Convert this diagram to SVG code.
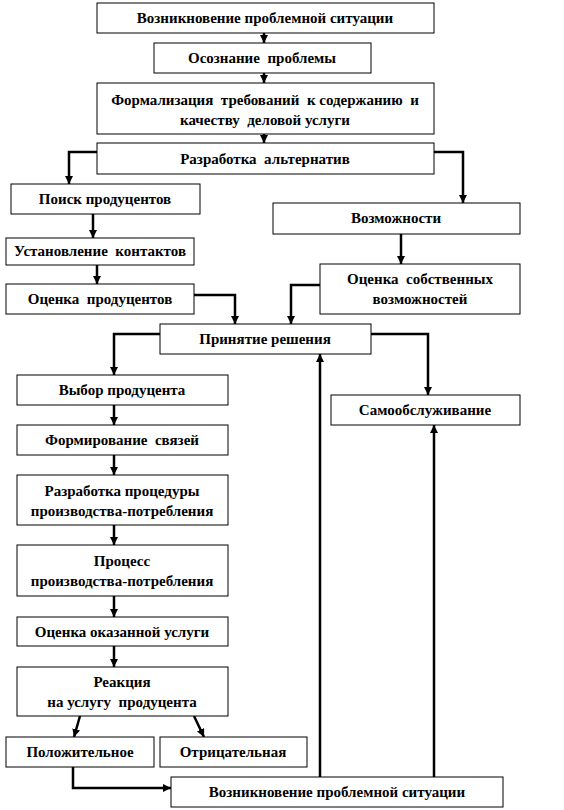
<svg xmlns="http://www.w3.org/2000/svg" width="564" height="810" viewBox="0 0 564 810">
<defs>
<marker id="ah" markerUnits="userSpaceOnUse" markerWidth="8" markerHeight="8" refX="8" refY="4" orient="auto"><path d="M0,0 L8,4 L0,8 z" fill="#000"/></marker>
<style>
rect{fill:#fff;stroke:#000;stroke-width:1}
text{font-weight:bold;font-size:15px;text-anchor:middle;dominant-baseline:central;white-space:pre}
.c path{fill:none;stroke:#000;stroke-width:2.5;marker-end:url(#ah)}
</style>
</defs>
<rect x="0" y="0" width="564" height="810" style="fill:#fff;stroke:none"/>
<g class="c" id="connectors">
<path d="M264,33 V43"/>
<path d="M264,73 V83"/>
<path d="M264,134 V143"/>
<path d="M97,152 H69 V184"/>
<path d="M434,152 H463 V203"/>
<path d="M93,214 V238"/>
<path d="M97,265 V284"/>
<path d="M401,234 V264"/>
<path d="M194,295 H235 V324"/>
<path d="M320,285 H291 V324"/>
<path d="M160,334 H114 V375"/>
<path d="M371,334 H428 V395"/>
<path d="M114,405 V425"/>
<path d="M114,455 V475"/>
<path d="M114,525 V545"/>
<path d="M114,596 V617"/>
<path d="M114,646 V667"/>
<path d="M80,716 L74,737"/>
<path d="M194,716 L204,737"/>
<path d="M73,767 V788 H171"/>
<path d="M320,777 V354"/>
<path d="M434,777 V425"/>
</g>
<g font-family="Liberation Serif, Times New Roman, serif">
<g id="n1"><rect x="97" y="3" width="337" height="30"/><text x="265" y="18">Возникновение проблемной ситуации</text></g>
<g id="n2"><rect x="154" y="43" width="217" height="30"/><text x="262" y="58">Осознание  проблемы</text></g>
<g id="n3"><rect x="97" y="83" width="337" height="51"/><text x="265" y="100">Формализация  требований  к содержанию  и</text><text x="265" y="120">качеству  деловой услуги</text></g>
<g id="n4"><rect x="97" y="143" width="337" height="31"/><text x="265" y="159">Разработка  альтернатив</text></g>
<g id="n5"><rect x="11" y="184" width="189" height="30"/><text x="105" y="199">Поиск продуцентов</text></g>
<g id="n6"><rect x="273" y="203" width="247" height="31"/><text x="396" y="218">Возможности</text></g>
<g id="n7"><rect x="6" y="238" width="188" height="27"/><text x="100" y="251">Установление  контактов</text></g>
<g id="n8"><rect x="6" y="284" width="188" height="30"/><text x="100" y="299">Оценка  продуцентов</text></g>
<g id="n9"><rect x="320" y="264" width="200" height="50"/><text x="420" y="279">Оценка  собственных</text><text x="420" y="299">возможностей</text></g>
<g id="n10"><rect x="160" y="324" width="211" height="30"/><text x="265" y="339">Принятие решения</text></g>
<g id="n11"><rect x="17" y="375" width="211" height="30"/><text x="122" y="390">Выбор продуцента</text></g>
<g id="n12"><rect x="331" y="395" width="189" height="30"/><text x="425" y="410">Самообслуживание</text></g>
<g id="n13"><rect x="17" y="425" width="211" height="30"/><text x="122" y="440">Формирование  связей</text></g>
<g id="n14"><rect x="17" y="475" width="211" height="50"/><text x="122" y="491">Разработка процедуры</text><text x="122" y="511">производства-потребления</text></g>
<g id="n15"><rect x="17" y="545" width="211" height="51"/><text x="122" y="561">Процесс</text><text x="122" y="581">производства-потребления</text></g>
<g id="n16"><rect x="17" y="617" width="211" height="29"/><text x="122" y="632">Оценка оказанной услуги</text></g>
<g id="n17"><rect x="17" y="667" width="211" height="49"/><text x="122" y="682">Реакция</text><text x="122" y="702">на услугу  продуцента</text></g>
<g id="n18"><rect x="6" y="737" width="148" height="30"/><text x="80" y="752">Положительное</text></g>
<g id="n19"><rect x="160" y="737" width="147" height="30"/><text x="233" y="752">Отрицательная</text></g>
<g id="n20"><rect x="171" y="777" width="332" height="30"/><text x="337" y="792">Возникновение проблемной ситуации</text></g>
</g>
</svg>
